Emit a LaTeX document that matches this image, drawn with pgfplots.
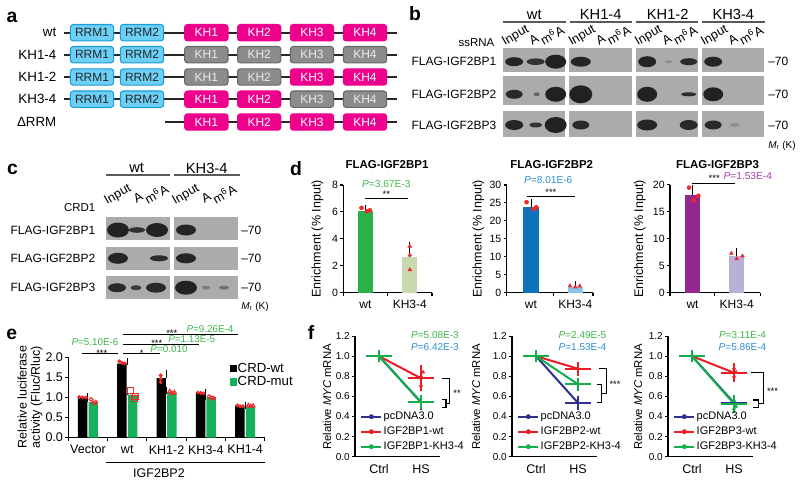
\documentclass[border=0pt]{standalone}
\usepackage{fontspec}
\setmainfont{Liberation Sans}
\setsansfont{Liberation Sans}
\usepackage{pgfplots}
\pgfplotsset{compat=1.18}
\newcommand\fs[2]{\fontsize{#1}{#2}\selectfont}
\definecolor{rrmfill}{HTML}{6CCFF6}
\definecolor{rrmdraw}{HTML}{1B9BD7}
\definecolor{khfill}{HTML}{EC008C}
\definecolor{grayfill}{HTML}{8C8C8C}
\definecolor{graydraw}{HTML}{666666}
\definecolor{blot}{HTML}{ABABAB}
\definecolor{band}{HTML}{1E1E1E}
\definecolor{dgreen}{HTML}{2BB04A}
\definecolor{dgreenl}{HTML}{C9D9AE}
\definecolor{dblue}{HTML}{0C72BA}
\definecolor{dbluel}{HTML}{86C6EA}
\definecolor{dpurp}{HTML}{92278F}
\definecolor{dpurpl}{HTML}{B9B0D9}
\definecolor{pgreen}{HTML}{3DB54A}
\definecolor{pblue}{HTML}{2B8DD6}
\definecolor{ppurp}{HTML}{A540A3}
\definecolor{egreen}{HTML}{17B15A}
\definecolor{fblue}{HTML}{2E3192}
\definecolor{fred}{HTML}{ED1C24}
\definecolor{fgreen}{HTML}{12B04B}
\definecolor{ptred}{HTML}{EE2A2A}
\newcommand\bnd[5]{\fill[band!#5!blot] (#1,#2) ellipse [x radius=#3, y radius=#4];}
\pgfplotsset{
 myax/.style={
  scale only axis, clip=false,
  axis x line*=bottom, axis y line*=left,
  tick align=outside, major tick length=2.3pt,
  axis line style={line width=0.8pt, black},
  every tick/.append style={line width=0.8pt, black},
  /pgf/number format/assume math mode=true,
  yticklabel style={font=\fs{7.9}{9}, inner sep=1.5pt},
  xticklabel style={font=\fs{9}{10}},
 },
 ebar/.style={error bars/.cd, y dir=plus, y explicit,
  error bar style={draw=black, line width=0.7pt},
  error mark options={draw=black, mark size=2.6pt, line width=0.7pt}},
 fline/.style={line width=1.5pt, mark=-, mark size=9.5pt, mark options={line width=1.5pt}, forget plot,
  error bars/.cd, y dir=both, y explicit, error bar style={line width=1.1pt},
  error mark options={mark size=4pt, line width=1.1pt}},
}
\begin{document}
\begin{tikzpicture}
\begin{scope}[x=0.75pt,y=-0.75pt]
\useasboundingbox (0,0) rectangle (800,485);
\coordinate (Ad1) at (343.3,292.7);
\coordinate (Ad2) at (506.6,292.7);
\coordinate (Ad3) at (670,292.7);
\coordinate (Ae) at (68.3,437.5);
\coordinate (Af1) at (355,456.7);
\coordinate (Af2) at (512,456.7);
\coordinate (Af3) at (668,456.7);
% panel letters
\foreach \l/\x/\y in {a/12/17,b/415/14,c/12.5/169,d/296/169,e/11.7/334,f/311/332}
 \node[font={\fs{14.5}{16}\bfseries}] at (\x,\y) {\l};
% ---------- panel a
\tikzset{dom/.style={rounded corners=2.2pt, minimum width=32.5pt, minimum height=12.3pt, inner sep=0pt, line width=0.8pt, font=\fs{9}{10}},
 rrm/.style={dom, draw=rrmdraw, fill=rrmfill, text=black!85},
 kh/.style={dom, draw=khfill, fill=khfill, text=white},
 khg/.style={dom, draw=graydraw, fill=grayfill, text=white!92!black}}
\foreach \y/\lab in {32.7/wt,54.7/KH1-4,77/KH1-2,99.2/KH3-4}{
 \draw[line width=1.4pt, black!85] (64.3,\y) -- (396.7,\y);
 \node[anchor=east, font=\fs{10}{12}] at (61,\y) {\lab};
 \node[rrm] at (92,\y) {RRM1};
 \node[rrm] at (142,\y) {RRM2};
}
\draw[line width=1.4pt, black!85] (165,122) -- (396.7,122);
\node[anchor=east, font=\fs{10}{12}] at (61,122) {ΔRRM};
\foreach \y/\a/\b/\c/\d in {32.7/kh/kh/kh/kh,54.7/khg/khg/khg/khg,77/khg/khg/kh/kh,99.2/kh/kh/khg/khg,122/kh/kh/kh/kh}{
 \node[\a] at (206.3,\y) {KH1};
 \node[\b] at (259.2,\y) {KH2};
 \node[\c] at (312,\y) {KH3};
 \node[\d] at (365,\y) {KH4};
}
% ---------- panel b
\foreach \c/\l/\a/\b in {534.3/wt/502.7/566,600.7/KH1-4/570/631.7,667.7/KH1-2/636/698.3,733.3/KH3-4/701.7/765}{
 \node[font=\fs{11}{12}] at (\c,14.5) {\l};
 \draw[line width=1.3pt, black!65] (\a,21.7) -- (\b,21.7);
}
\foreach \L in {502.7,569.3,635.7,701.7}{
 \node[rotate=30, anchor=base west, font=\fs{9.6}{11}, inner sep=0pt] at (\L+2,46) {Input};
 \node[rotate=30, anchor=base west, font=\fs{9.6}{11}, inner sep=0pt] at (\L+29.5,45.5) {A};
 \node[rotate=30, anchor=base west, font=\fs{9.6}{11}, inner sep=0pt] at (\L+41,46) {m\textsuperscript{6}A};
 \fill[blot] (\L,48.3) rectangle (\L+62.5,71.7);
 \fill[blot] (\L,76) rectangle (\L+62.5,105);
 \fill[blot] (\L,111) rectangle (\L+62.5,137.3);
}
\node[anchor=east, font=\fs{8.6}{10}] at (499,42.7) {ssRNA};
\foreach \y/\l in {61.7/1,94.3/2,125/3}{
 \node[anchor=east, font=\fs{9}{10}] at (501,\y) {FLAG-IGF2BP\l};
 \node[anchor=west, font=\fs{9}{10}, inner sep=0pt] at (768,\y) {–70};
}
\node[anchor=west, font=\fs{7.5}{9}, inner sep=0pt] at (768,145.7) {\textit{M}\textsubscript{r} (K)};
% row1
\bnd{514.2}{61.7}{9}{4.5}{95}\bnd{535.7}{61.7}{9}{3.3}{85}\bnd{555.7}{61.7}{10.5}{7}{98}
\bnd{580.8}{61.7}{10}{5}{95}
\bnd{647.2}{61.7}{9}{5.5}{95}\bnd{668.7}{61.7}{4}{1.5}{20}\bnd{688.7}{61.7}{8.5}{3.5}{90}
\bnd{713.2}{61.7}{9}{5}{95}
% row2
\bnd{514.2}{94.3}{8.5}{4.5}{92}\bnd{536.7}{94.3}{3}{2}{50}\bnd{555.7}{94.3}{10.5}{7.5}{98}
\bnd{580.8}{94.3}{11.5}{9}{98}
\bnd{647.2}{94.3}{10}{7.5}{97}\bnd{688.7}{94.3}{7.5}{2}{90}
\bnd{713.2}{94.3}{10}{7}{97}
% row3
\bnd{514.2}{125}{9}{5}{95}\bnd{535.7}{125}{6.5}{2.5}{85}\bnd{555.7}{125}{11}{8}{98}
\bnd{580.8}{125}{8.5}{4.5}{92}
\bnd{647.2}{125}{10}{5.5}{95}\bnd{688.7}{125}{9}{5}{93}
\bnd{713.2}{125}{8.5}{4.5}{92}\bnd{734.7}{125}{5}{2}{20}
% ---------- panel c
\foreach \c/\l/\a/\b in {136.7/wt/106/170,206.7/KH3-4/174/240}{
 \node[font=\fs{11}{12}] at (\c,168.3) {\l};
 \draw[line width=1.3pt, black!65] (\a,175) -- (\b,175);
}
\foreach \L in {106,174}{
 \node[rotate=30, anchor=base west, font=\fs{9.6}{11}, inner sep=0pt] at (\L+1,205) {Input};
 \node[rotate=30, anchor=base west, font=\fs{9.6}{11}, inner sep=0pt] at (\L+30.5,203.5) {A};
 \node[rotate=30, anchor=base west, font=\fs{9.6}{11}, inner sep=0pt] at (\L+42,205) {m\textsuperscript{6}A};
 \fill[blot] (\L,216.7) rectangle (\L+63.5,240);
 \fill[blot] (\L,246.7) rectangle (\L+63.5,270);
 \fill[blot] (\L,276) rectangle (\L+63.5,299.3);
}
\node[anchor=east, font=\fs{8.6}{10}] at (100,207.3) {CRD1};
\foreach \y/\l in {230/1,258.3/2,287.7/3}{
 \node[anchor=east, font=\fs{9}{10}] at (100,\y) {FLAG-IGF2BP\l};
 \node[anchor=west, font=\fs{9}{10}, inner sep=0pt] at (241,\y) {–70};
}
\node[anchor=west, font=\fs{7.5}{9}, inner sep=0pt] at (241,306.7) {\textit{M}\textsubscript{r} (K)};
\bnd{118}{230}{11}{7.5}{97}\bnd{137}{230}{8}{2.8}{88}\bnd{157}{230}{11}{7}{97}
\bnd{186}{230}{10}{5.5}{95}
\bnd{118}{258.3}{10}{5.5}{95}\bnd{159}{258.3}{9}{3}{90}
\bnd{186}{258.3}{10}{5}{95}
\bnd{117}{287.7}{9}{4.5}{92}\bnd{136}{287.7}{5.5}{2.5}{80}\bnd{156}{287.7}{10}{5}{92}
\bnd{186}{287.7}{11}{7}{97}\bnd{206}{287.7}{4}{2}{35}\bnd{224}{287.7}{5}{2}{40}
% ---------- panel d text
\foreach \x/\l in {387/1,551.7/2,717.5/3}
 \node[font={\fs{8.6}{10}\bfseries}] at (\x,165) {FLAG-IGF2BP\l};
\foreach \x in {317.5,478.5,640}
 \node[rotate=90, font=\fs{9.4}{11}] at (\x,239) {Enrichment (\% Input)};
% ---------- panel e annotations
\node[rotate=90, align=center, font=\fs{9.4}{10}] at (30,397) {Relative luciferase\\activity (Fluc/Rluc)};
\draw[line width=0.7pt] (81.7,353.5) -- (118.3,353.5);
\draw[line width=0.7pt] (123.3,353.5) -- (160,353.5);
\draw[line width=0.7pt] (123.3,344) -- (199.3,344);
\draw[line width=0.7pt] (123.3,334) -- (238.3,334);
\node[anchor=base, font=\fs{7}{8}, inner sep=0pt] at (101.7,356) {***};
\node[anchor=base, font=\fs{7}{8}, inner sep=0pt] at (141.7,356) {*};
\node[anchor=base, font=\fs{7}{8}, inner sep=0pt] at (156.7,346.5) {***};
\node[anchor=base, font=\fs{7}{8}, inner sep=0pt] at (171.7,336.5) {***};
\node[anchor=base, font=\fs{7.4}{9}, inner sep=0pt, text=pgreen] at (95,345) {\textit{P}=5.10E-6};
\node[anchor=base, font=\fs{7.4}{9}, inner sep=0pt, text=pgreen] at (169,352) {\textit{P}=0.010};
\node[anchor=base, font=\fs{7.4}{9}, inner sep=0pt, text=pgreen] at (191.7,342.3) {\textit{P}=1.13E-5};
\node[anchor=base, font=\fs{7.4}{9}, inner sep=0pt, text=pgreen] at (210,332.3) {\textit{P}=9.26E-4};
\draw[line width=0.8pt] (106,462.7) -- (265,462.7);
\node[font=\fs{9.4}{10}] at (159,473) {IGF2BP2};
% ---------- panel f annotations
\foreach \x in {327,476,638}
 \node[rotate=90, font=\fs{8.5}{10}] at (\x,397) {Relative \textit{MYC} mRNA};
\foreach \x/\g/\b in {435/5.08E-3/6.42E-3,582.5/2.49E-5/1.53E-4,742.5/3.11E-4/5.86E-4}{
 \node[font=\fs{7.5}{9}, text=pgreen] at (\x,335) {\textit{P}=\g};
 \node[font=\fs{7.5}{9}, text=pblue] at (\x,346.7) {\textit{P}=\b};
}
\draw[line width=0.8pt] (441.7,378.2)--(449.5,378.2)--(449.5,403.4)--(446,403.4);
\draw[line width=0.8pt] (441.7,399.4)--(446,399.4)--(446,407.4)--(441.7,407.4);
\node[font=\fs{7}{8}] at (457,393) {**};
\draw[line width=0.8pt] (599,368.7)--(606.7,368.7)--(606.7,393.6)--(601.7,393.6);
\draw[line width=0.8pt] (596.7,384.3)--(601.7,384.3)--(601.7,402.9)--(596.7,402.9);
\node[font=\fs{7}{8}] at (615,384) {***};
\draw[line width=0.8pt] (751,372.7)--(763.3,372.7)--(763.3,403.7)--(758.3,403.7);
\draw[line width=0.8pt] (753.3,400)--(758.3,400)--(758.3,407.4)--(753.3,407.4);
\node[font=\fs{7}{8}] at (772.5,391.5) {***};
\end{scope}

% ================= panel d axes
\begin{axis}[myax, at={(Ad1)}, anchor=south west, width=66.5pt, height=80.8pt,
 xmin=-0.5, xmax=1.5, ymin=0, ymax=8, ytick={0,2,4,6,8},
 xtick={-0.5,0.5,1.5}, xticklabels={},
 extra x ticks={0,1}, extra x tick labels={wt,KH3-4}, extra x tick style={tick style={draw=none}}]
\addplot[ybar, bar width=0.34, bar shift=0, fill=dgreen, draw=none, ebar] coordinates {(0,6.05) +- (0,0.2)};
\addplot[ybar, bar width=0.34, bar shift=0, fill=dgreenl, draw=none, ebar] coordinates {(1,2.65) +- (0,0.85)};
\addplot[only marks, mark=*, mark size=1.5pt, ptred] coordinates {(-0.09,6.3) (0.03,6.05) (0.1,6.12)};
\addplot[only marks, mark=triangle*, mark size=1.6pt, ptred] coordinates {(1,3.45) (1,2.8) (1,1.7)};
\draw[line width=0.7pt] (axis cs:0,7) -- (axis cs:0.95,7);
\node[font=\fs{7}{8}] at (axis cs:0.47,7.3) {**};
\node[font=\fs{7.6}{9}, text=pgreen] at (axis cs:0.47,8.1) {\textit{P}=3.67E-3};
\end{axis}

\begin{axis}[myax, at={(Ad2)}, anchor=south west, width=64.8pt, height=80.8pt,
 xmin=-0.55, xmax=1.4, ymin=0, ymax=30, ytick={0,5,10,15,20,25,30},
 xtick={-0.55,0.5,1.4}, xticklabels={},
 extra x ticks={0,1}, extra x tick labels={wt,KH3-4}, extra x tick style={tick style={draw=none}}]
\addplot[ybar, bar width=0.34, bar shift=0, fill=dblue, draw=none, ebar] coordinates {(0,24.0) +- (0,1.0)};
\addplot[ybar, bar width=0.34, bar shift=0, fill=dbluel, draw=none, ebar] coordinates {(1,1.7) +- (0,0.5)};
\addplot[only marks, mark=*, mark size=1.5pt, ptred] coordinates {(-0.1,25.2) (0.05,23.3) (0.12,23.8)};
\addplot[only marks, mark=triangle*, mark size=1.6pt, ptred] coordinates {(0.88,1.9) (1.0,1.6) (1.1,1.85)};
\draw[line width=0.7pt] (axis cs:-0.1,26.9) -- (axis cs:1.0,26.9);
\node[font=\fs{7}{8}] at (axis cs:0.45,27.9) {***};
\node[font=\fs{7.6}{9}, text=pblue] at (axis cs:0.39,31.4) {\textit{P}=8.01E-6};
\end{axis}

\begin{axis}[myax, at={(Ad3)}, anchor=south west, width=67.6pt, height=80.8pt,
 xmin=-0.51, xmax=1.53, ymin=0, ymax=20, ytick={0,5,10,15,20},
 xtick={-0.51,0.5,1.53}, xticklabels={},
 extra x ticks={0,1}, extra x tick labels={wt,KH3-4}, extra x tick style={tick style={draw=none}}]
\addplot[ybar, bar width=0.34, bar shift=0, fill=dpurp, draw=none, ebar] coordinates {(0,18.2) +- (0,1.1)};
\addplot[ybar, bar width=0.34, bar shift=0, fill=dpurpl, draw=none, ebar] coordinates {(1,6.9) +- (0,0.7)};
\addplot[only marks, mark=*, mark size=1.5pt, ptred] coordinates {(-0.08,19.5) (0.03,17.2) (0.13,18.0)};
\addplot[only marks, mark=triangle*, mark size=1.6pt, ptred] coordinates {(0.88,7.3) (1.0,6.3) (1.13,6.8)};
\draw[line width=0.7pt] (axis cs:-0.02,20.3) -- (axis cs:0.96,20.3);
\node[font=\fs{7}{8}] at (axis cs:0.49,21.2) {***};
\node[anchor=west, inner sep=0pt, font=\fs{7.6}{9}, text=ppurp] at (axis cs:0.70,21.6) {\textit{P}=1.53E-4};
\end{axis}

% ================= panel e
\begin{axis}[myax, at={(Ae)}, anchor=south west, width=147.4pt, height=60.15pt,
 xmin=-0.5, xmax=4.5, ymin=0, ymax=2, ytick={0,0.5,1,1.5,2}, yticklabels={0.0,0.5,1.0,1.5,2.0},
 yticklabel style={font=\fs{9.4}{10}}, xticklabel style={font=\fs{9.4}{10}},
 xtick={-0.5,0.5,1.5,2.5,3.5,4.5}, xticklabels={},
 extra x ticks={0,1,2,3,4}, extra x tick labels={Vector,wt,KH1-2,KH3-4,KH1-4}, extra x tick style={tick style={draw=none}},
 legend style={at={(0.82,0.95)}, anchor=north west, draw=none, fill=none, font=\fs{9.9}{11}, inner sep=0pt, row sep=-0.5pt, nodes={inner sep=1pt}}, legend cell align=left]
\addlegendimage{legend image code/.code={\fill[black] (0pt,-2.3pt) rectangle (4.6pt,2.3pt);}}
\addlegendentry{CRD-wt}
\addlegendimage{legend image code/.code={\fill[egreen] (0pt,-2.3pt) rectangle (4.6pt,2.3pt);}}
\addlegendentry{CRD-mut}
\addplot[ybar, bar width=0.24, bar shift=-0.135, fill=black, draw=none, forget plot, ebar] coordinates {(0,1.0) +- (0,0.02) (1,1.84) +- (0,0.05) (2,1.48) +- (0,0.12) (3,1.11) +- (0,0.02) (4,0.78) +- (0,0.02)};
\addplot[ybar, bar width=0.24, bar shift=0.135, fill=egreen, draw=none, forget plot, ebar] coordinates {(0,0.88) +- (0,0.08) (1,1.07) +- (0,0.10) (2,1.12) +- (0,0.05) (3,1.0) +- (0,0.02) (4,0.79) +- (0,0.02)};
\addplot[only marks, mark=*, mark size=1.3pt, ptred, forget plot] coordinates {(-0.22,1.01) (-0.135,1.0) (-0.05,1.0) (0.8,1.9) (0.87,1.86) (0.94,1.85) (1.85,1.55) (1.85,1.47) (1.85,1.38) (2.8,1.12) (2.87,1.11) (2.94,1.1) (3.8,0.8) (3.87,0.78) (3.94,0.78)};
\addplot[only marks, mark=o, mark size=1.4pt, ptred, thick, forget plot] coordinates {(0.08,0.95) (0.14,0.86) (0.2,0.88) (3.08,1.02) (3.14,0.99) (3.2,0.98)};
\addplot[only marks, mark=square, mark size=2.2pt, ptred, thick, forget plot] coordinates {(1.08,1.17) (1.2,1.03) (1.18,0.97)};
\addplot[only marks, mark=triangle, mark size=1.6pt, ptred, thick, forget plot] coordinates {(2.08,1.15) (2.14,1.1) (2.2,1.12) (4.08,0.8) (4.14,0.78) (4.2,0.79)};
\end{axis}

% ================= panel f
\pgfplotsset{fax/.style={myax, anchor=south west, width=63.7pt, height=90.5pt,
 xmin=-0.571, xmax=1.45, ymin=0, ymax=1.2, ytick={0,0.2,0.4,0.6,0.8,1.0,1.2}, yticklabels={0.0,0.2,0.4,0.6,0.8,1.0,1.2},
 yticklabel style={font=\fs{7.5}{9}}, xticklabel style={font=\fs{9.4}{10}},
 xtick={0,1}, xticklabels={Ctrl,HS}, xtick style={draw=none},
 legend style={at={(0.06,0.385)}, anchor=north west, draw=none, fill=none, font=\fs{8.25}{9}, inner sep=0pt, row sep=2pt, nodes={inner sep=1pt}}, legend cell align=left},
 lb/.style={legend image code/.code={\draw[#1,line width=1.5pt] (0pt,0pt)--(15pt,0pt); \fill[#1] (7.5pt,0pt) circle (1.6pt);}}}

\begin{axis}[fax, at={(Af1)}]
\addlegendimage{lb=fblue}\addlegendentry{pcDNA3.0}
\addlegendimage{lb=fred}\addlegendentry{IGF2BP1-wt}
\addlegendimage{lb=fgreen}\addlegendentry{IGF2BP1-KH3-4}
\addplot[fblue, fline] coordinates {(0,1) +- (0,0.01) (1,0.54) +- (0,0.02)};
\addplot[fred, fline] coordinates {(0,1) +- (0,0.01) (1,0.78) +- (0,0.075)};
\addplot[fgreen, fline] coordinates {(0,1) +- (0,0.01) (1,0.545) +- (0,0.02)};
\addplot[only marks, mark=triangle*, mark size=1.4pt, fred, forget plot] coordinates {(1.05,0.84) (1.0,0.80) (1.0,0.71)};
\end{axis}

\begin{axis}[fax, at={(Af2)}]
\addlegendimage{lb=fblue}\addlegendentry{pcDNA3.0}
\addlegendimage{lb=fred}\addlegendentry{IGF2BP2-wt}
\addlegendimage{lb=fgreen}\addlegendentry{IGF2BP2-KH3-4}
\addplot[fblue, fline] coordinates {(0,1) +- (0,0.01) (1,0.535) +- (0,0.02)};
\addplot[fred, fline] coordinates {(0,1) +- (0,0.01) (1,0.875) +- (0,0.015)};
\addplot[fgreen, fline] coordinates {(0,1) +- (0,0.01) (1,0.72) +- (0,0.01)};
\end{axis}

\begin{axis}[fax, at={(Af3)}]
\addlegendimage{lb=fblue}\addlegendentry{pcDNA3.0}
\addlegendimage{lb=fred}\addlegendentry{IGF2BP3-wt}
\addlegendimage{lb=fgreen}\addlegendentry{IGF2BP3-KH3-4}
\addplot[fblue, fline] coordinates {(0,1) +- (0,0.01) (1,0.535) +- (0,0.02)};
\addplot[fred, fline] coordinates {(0,1) +- (0,0.01) (1,0.835) +- (0,0.04)};
\addplot[fgreen, fline] coordinates {(0,1) +- (0,0.01) (1,0.525) +- (0,0.04)};
\addplot[only marks, mark=triangle*, mark size=1.4pt, fred, forget plot] coordinates {(1.0,0.88) (1.05,0.84) (1.0,0.80)};
\addplot[only marks, mark=triangle*, mark size=1.4pt, fgreen, forget plot] coordinates {(1.0,0.56) (1.05,0.50) (1.0,0.48)};
\end{axis}
\end{tikzpicture}
\end{document}
